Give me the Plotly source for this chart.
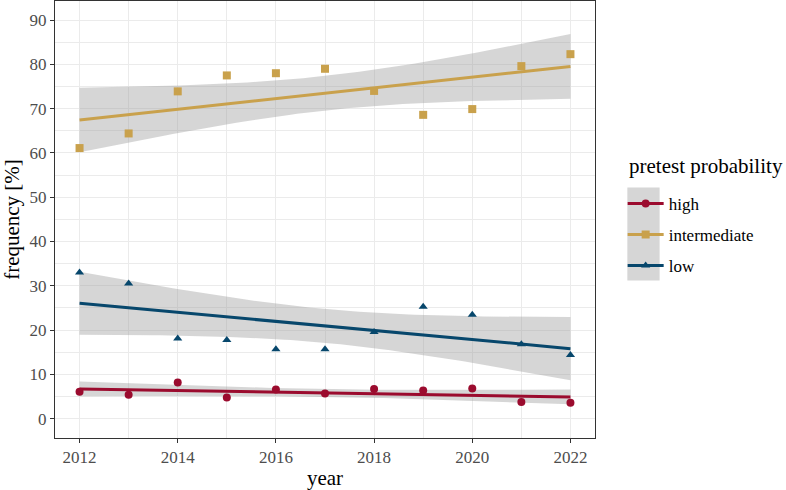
import numpy as np
import plotly.graph_objects as go

years = [2012, 2013, 2014, 2015, 2016, 2017, 2018, 2019, 2020, 2021, 2022]
high = [6.1, 5.4, 8.2, 4.8, 6.6, 5.7, 6.7, 6.4, 6.8, 3.8, 3.6]
intermediate = [61.1, 64.4, 73.9, 77.5, 78.0, 79.0, 74.0, 68.6, 69.9, 79.6, 82.3]
low = [33.0, 30.5, 18.1, 17.8, 15.7, 15.7, 19.6, 25.3, 23.5, 16.8, 14.4]

series_names = ["high", "intermediate", "low"]
series_values = [high, intermediate, low]
colors = ["#9B0B2E", "#C9A14C", "#07476C"]
symbols = ["circle", "square", "triangle-up"]

x_ticks = [2012, 2014, 2016, 2018, 2020, 2022]
y_ticks = [0, 10, 20, 30, 40, 50, 60, 70, 80, 90]

T975_DF9 = 2.262157  # t quantile for 95% CI, n-2 = 9 degrees of freedom


def lm_band(xs, ys, grid):
    xs = np.asarray(xs, float)
    ys = np.asarray(ys, float)
    n = len(xs)
    xm, ym = xs.mean(), ys.mean()
    sxx = ((xs - xm) ** 2).sum()
    b = ((xs - xm) * (ys - ym)).sum() / sxx
    a = ym - b * xm
    resid = ys - (a + b * xs)
    s = np.sqrt((resid ** 2).sum() / (n - 2))
    pred = a + b * grid
    se = s * np.sqrt(1.0 / n + (grid - xm) ** 2 / sxx)
    return pred, pred - T975_DF9 * se, pred + T975_DF9 * se


grid = np.linspace(min(years), max(years), 80)

fig = go.Figure()
FONT = "Liberation Serif, Times New Roman, serif"

# confidence bands
for name, vals in zip(series_names, series_values):
    pred, lo, hi = lm_band(years, vals, grid)
    fig.add_trace(go.Scatter(
        x=np.concatenate([grid, grid[::-1]]),
        y=np.concatenate([hi, lo[::-1]]),
        fill="toself", fillcolor="rgba(153,153,153,0.4)",
        line=dict(width=0), mode="lines", hoverinfo="skip", showlegend=False))

# fitted lines
for name, vals, c in zip(series_names, series_values, colors):
    pred, lo, hi = lm_band(years, vals, grid)
    fig.add_trace(go.Scatter(x=grid, y=pred, mode="lines",
                             line=dict(color=c, width=3), showlegend=False, hoverinfo="skip"))

# points
for name, vals, c, s in zip(series_names, series_values, colors, symbols):
    fig.add_trace(go.Scatter(x=years, y=vals, mode="markers", name=name,
                             marker=dict(color=c, symbol=s, size=8, line=dict(width=0)),
                             showlegend=False))

# legend entries
for name, c, s in zip(series_names, colors, symbols):
    fig.add_trace(go.Scatter(x=[None], y=[None], mode="lines+markers", name=name,
                             legendgroup=name,
                             line=dict(color=c, width=3),
                             marker=dict(color=c, symbol=s, size=8)))

L, R, T, B = 54.5, 190.7, 1, 51.7
W, H = 786, 490
pw = W - L - R
ph = H - T - B


def px_x(x):
    return (x - L) / pw


def px_y(y):
    return (H - B - y) / ph


fig.add_shape(type="rect", xref="paper", yref="paper",
              x0=px_x(627.7), x1=px_x(660), y0=px_y(280.7), y1=px_y(187.7),
              fillcolor="#D6D6D6", line=dict(width=0), layer="below")

fig.add_annotation(text="pretest probability", xref="paper", yref="paper",
                   x=px_x(627), y=px_y(166), xanchor="left", yanchor="middle",
                   showarrow=False, font=dict(size=21, family=FONT, color="black"))

fig.update_layout(
    width=W, height=H,
    margin=dict(l=L, r=R, t=T, b=B, autoexpand=False),
    paper_bgcolor="white", plot_bgcolor="white",
    font=dict(family=FONT, color="black"),
    legend=dict(
        font=dict(size=17, family=FONT, color="black"),
        x=px_x(623), xanchor="left", y=px_y(186), yanchor="top",
        bgcolor="rgba(0,0,0,0)", tracegroupgap=6, itemwidth=36,
    ),
    xaxis=dict(
        range=[2011.5, 2022.5], tickvals=x_ticks, ticktext=[str(v) for v in x_ticks],
        showgrid=True, gridcolor="#EBEBEB", gridwidth=1.1,
        minor=dict(dtick=1, tick0=2012, showgrid=True, gridcolor="#EBEBEB", gridwidth=0.6),
        showline=True, mirror=True, linecolor="#333333", linewidth=1.1,
        ticks="outside", ticklen=4, tickcolor="#333333", tickwidth=1.1,
        tickfont=dict(size=17, color="#4D4D4D", family=FONT),
        title=dict(text="year", font=dict(size=21, family=FONT, color="black"), standoff=4),
        zeroline=False,
    ),
    yaxis=dict(
        range=[-4.35, 94.3], tickvals=y_ticks, ticktext=[str(v) for v in y_ticks],
        showgrid=True, gridcolor="#EBEBEB", gridwidth=1.1,
        minor=dict(dtick=5, tick0=0, showgrid=True, gridcolor="#EBEBEB", gridwidth=0.6),
        showline=True, mirror=True, linecolor="#333333", linewidth=1.1,
        ticks="outside", ticklen=4, tickcolor="#333333", tickwidth=1.1,
        tickfont=dict(size=17, color="#4D4D4D", family=FONT),
        title=dict(text="frequency [%]", font=dict(size=21, family=FONT, color="black"), standoff=6),
        zeroline=False,
    ),
)

fig.write_html("out.html", config={"displayModeBar": False},
               post_script="document.body.style.margin='0';document.body.style.padding='0';")
